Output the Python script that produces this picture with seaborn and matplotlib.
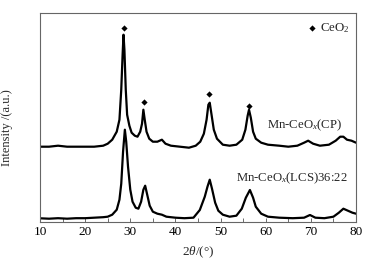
import matplotlib
matplotlib.use("Agg")
import matplotlib.pyplot as plt
from matplotlib.ticker import MultipleLocator
import seaborn as sns
import pandas as pd

# ---- data ----
two_theta_cp = [10, 12, 14, 16, 18, 20, 22, 24, 25, 26, 27, 27.6, 28.0, 28.3, 28.5, 28.7, 29.0, 29.3,
                29.8, 30.3, 31.0, 31.6, 32.2, 32.6, 32.9, 33.2, 33.6, 34.2, 35, 36, 37, 37.8, 39, 41,
                43, 44.5, 45.5, 46.3, 46.9, 47.3, 47.6, 48.0, 48.5, 49.2, 50.5, 52, 53.5, 54.8, 55.5,
                56.0, 56.3, 56.7, 57.2, 57.8, 59, 60.5, 63, 65, 67, 68.5, 69.4, 70.5, 72, 74, 75.5,
                76.5, 77.2, 78, 79, 80]
intensity_cp = [75, 75, 76, 75, 75, 75, 75, 76, 78, 82, 90, 102, 132, 167, 187, 172, 132, 107,
                96, 89, 86, 85, 90, 98, 112, 102, 90, 83, 80, 80, 82, 78, 76, 75,
                74, 76, 80, 88, 102, 117, 119, 107, 92, 83, 77, 76, 77, 82, 92,
                106, 112, 104, 90, 83, 79, 77, 76, 75, 76, 79, 81, 78, 76, 77, 81,
                85, 85, 82, 81, 79]

two_theta_lcs = [10, 12, 14, 16, 18, 20, 22, 24, 25, 26, 27, 27.6, 28.0, 28.4, 28.8, 29.1, 29.5, 30.0,
                 30.5, 31.2, 31.8, 32.4, 32.9, 33.3, 33.7, 34.3, 35, 36, 37, 38, 40, 42, 44, 45.4,
                 46.5, 47.1, 47.6, 48.1, 48.8, 49.5, 50.5, 52, 53.5, 54.7, 55.6, 56.5, 57.2, 57.8,
                 59, 60.5, 63, 66, 68.5, 69.8, 71, 73, 75, 76.2, 77.2, 78.2, 79.2, 80]
intensity_lcs = [3.4, 3, 3.5, 3, 3.5, 3.5, 4, 4.5, 5, 7, 12, 22, 38, 70, 92, 80, 55, 32,
                 20, 14, 13, 20, 32, 36, 28, 16, 10, 8, 7, 5, 4, 3.5, 4, 11.7,
                 25, 35, 42, 33, 19, 11, 7, 5, 6, 13, 24, 31.7, 24, 15,
                 8, 5, 4, 3.5, 4, 6.7, 4, 3.5, 5, 9, 13, 11, 9, 8]

ceo2_peak_pos = [28.5, 33.0, 47.5, 56.3]
ceo2_marker_height = [193.4, 120, 127.4, 116]

x_ticks = [10, 20, 30, 40, 50, 60, 70, 80]
label_cp = "Mn-CeO$_x$(CP)"
label_lcs = "Mn-CeO$_x$(LCS)36:22"
legend_text = "CeO$_2$"

# ---- style ----
sns.set_theme(style="white")
plt.rcParams["font.family"] = ["Liberation Serif", "DejaVu Serif"]
plt.rcParams["mathtext.fontset"] = "custom"
plt.rcParams["mathtext.rm"] = "Liberation Serif"
plt.rcParams["mathtext.it"] = "Liberation Serif:italic"
plt.rcParams["mathtext.bf"] = "Liberation Serif:bold"

fig = plt.figure(figsize=(3.86, 2.61), dpi=100)
ax = fig.add_axes([0.1036, 0.1506, 0.8187, 0.7984])

df_cp = pd.DataFrame({"two_theta": two_theta_cp, "intensity": intensity_cp})
df_lcs = pd.DataFrame({"two_theta": two_theta_lcs, "intensity": intensity_lcs})
df_pk = pd.DataFrame({"two_theta": ceo2_peak_pos, "h": ceo2_marker_height})

sns.lineplot(data=df_cp, x="two_theta", y="intensity", color="black", lw=1.6,
             estimator=None, ax=ax)
sns.lineplot(data=df_lcs, x="two_theta", y="intensity", color="black", lw=1.6,
             estimator=None, ax=ax)
sns.scatterplot(data=df_pk, x="two_theta", y="h", marker="D", s=10, color="black",
                edgecolor="black", linewidth=0, ax=ax)

# legend-like marker + text
ax.scatter([70.3], [193.4], marker="D", s=10, color="black", linewidth=0)
ax.text(72.0, 193.4, legend_text, fontsize=9.3, va="center", ha="left")

ax.text(68.7, 96.7, label_cp, fontsize=9.2, va="center", ha="center")
ax.text(65.9, 43.4, label_lcs, fontsize=9.2, va="center", ha="center")

ax.set_xlim(10, 80)
ax.set_ylim(0, 208.4)
ax.set_xticks(x_ticks)
ax.xaxis.set_minor_locator(MultipleLocator(5))
ax.set_yticks([])
ax.tick_params(axis="x", which="both", direction="in", length=3, width=0.6,
               labelsize=9.5, pad=3, bottom=True, top=False, colors="#555555",
               labelcolor="black")

ax.set_xlabel(r"2$\theta$/(°)", fontsize=9.5, labelpad=5)
ax.set_ylabel("Intensity /(a.u.)", fontsize=9)
ax.yaxis.set_label_coords(-0.085, 0.45)

for sp in ax.spines.values():
    sp.set_color("#666666")
    sp.set_linewidth(0.8)

fig.savefig("out.png", dpi=100, facecolor="white")
